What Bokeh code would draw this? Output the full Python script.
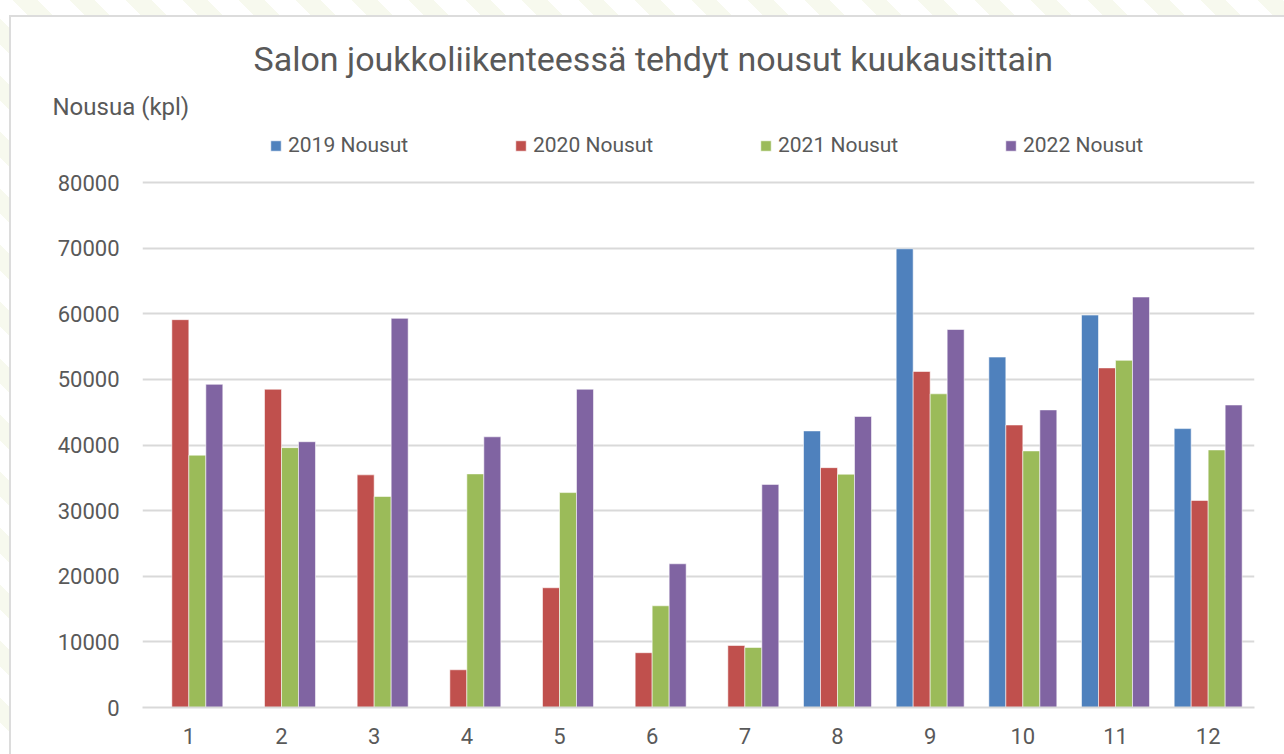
from bokeh.plotting import figure
from bokeh.models import (Range1d, FixedTicker, NumeralTickFormatter, Legend, LegendItem, Title)
from bokeh.embed import file_html
from bokeh.resources import INLINE

months = [1, 2, 3, 4, 5, 6, 7, 8, 9, 10, 11, 12]
nan = float("nan")
y2019 = [nan, nan, nan, nan, nan, nan, nan, 42150, 69900, 53400, 59800, 42500]
y2020 = [59100, 48500, 35450, 5750, 18250, 8350, 9450, 36550, 51200, 43050, 51750, 31550]
y2021 = [38450, 39600, 32150, 35600, 32750, 15500, 9150, 35550, 47800, 39100, 52900, 39250]
y2022 = [49250, 40500, 59300, 41250, 48500, 21900, 34000, 44350, 57600, 45350, 62550, 46100]
series_names = ["2019 Nousut", "2020 Nousut", "2021 Nousut", "2022 Nousut"]
colors = ["#4F81BD", "#C0504D", "#9BBB59", "#8064A2"]
y_ticks = [0, 10000, 20000, 30000, 40000, 50000, 60000, 70000, 80000]
title_text = "Salon joukkoliikenteessä tehdyt nousut kuukausittain"
y_label = "Nousua (kpl)"

FONT = "Roboto"
TXT = "#595959"

# layout (pixels)
AXIS_PX = 525          # pixels from 0 to 80000
FRAME_H = 582          # plot area extends above 80000 to hold the legend
Y_MAX = y_ticks[-1] * FRAME_H / AXIS_PX

p = figure(width=1284, height=754, output_backend="svg", toolbar_location=None,
           x_range=Range1d(0.5, 12.5), y_range=Range1d(0, Y_MAX),
           min_border_left=142, min_border_right=30, min_border_top=125, min_border_bottom=47,
           frame_width=1112, frame_height=FRAME_H)
p.outline_line_color = None
p.background_fill_color = "white"
p.border_fill_alpha = 0
# chart-area frame and faint page pattern drawn as the element background
p.styles = {
    "background-color": "white",
    "background-image": ("linear-gradient(#dcdcdc,#dcdcdc), linear-gradient(#dcdcdc,#dcdcdc), "
                         "linear-gradient(#ffffff,#ffffff), "
                         "repeating-linear-gradient(45deg, #ffffff 0px, #ffffff 22px, "
                         "#f7f9ee 22px, #f7f9ee 40px)"),
    "background-size": "2px 100%, 100% 2px, 100% 100%, 100% 100%",
    "background-position": "9px 15px, 9px 15px, 11px 17px, 0px 0px",
    "background-repeat": "no-repeat",
}

bw = 0.1834
offsets = [-1.5 * bw, -0.5 * bw, 0.5 * bw, 1.5 * bw]
renderers = []
for vals, col, off in zip([y2019, y2020, y2021, y2022], colors, offsets):
    xs = [m + off for m in months]
    r = p.vbar(x=xs, top=vals, bottom=0, width=bw, fill_color=col,
               line_color="white", line_alpha=0.55, line_width=1)
    renderers.append(r)

# axes
p.xaxis.ticker = FixedTicker(ticks=months)
p.xaxis.axis_line_color = "#D9D9D9"
p.xaxis.axis_line_width = 2
p.xaxis.major_tick_line_color = None
p.xaxis.minor_tick_line_color = None
p.xaxis.major_label_text_font = FONT
p.xaxis.major_label_text_font_size = "22px"
p.xaxis.major_label_text_color = TXT
p.xaxis.major_label_standoff = 14

p.yaxis.ticker = FixedTicker(ticks=y_ticks)
p.yaxis.formatter = NumeralTickFormatter(format="0")
p.yaxis.axis_line_color = None
p.yaxis.major_tick_line_color = None
p.yaxis.minor_tick_line_color = None
p.yaxis.major_label_text_font = FONT
p.yaxis.major_label_text_font_size = "22px"
p.yaxis.major_label_text_color = TXT
p.yaxis.major_label_standoff = 17

p.xgrid.grid_line_color = None
p.ygrid.grid_line_color = "#D9D9D9"
p.ygrid.grid_line_width = 2
p.ygrid.ticker = FixedTicker(ticks=y_ticks)

# legend inside the (extended) plot area
items = [LegendItem(label=n, renderers=[r]) for n, r in zip(series_names, renderers)]
legend = Legend(items=items, orientation="horizontal", location=(127, 550),
                glyph_width=13, glyph_height=13, label_standoff=6, label_width=226,
                spacing=0, padding=0, margin=0, border_line_color=None,
                background_fill_alpha=0, label_text_font=FONT,
                label_text_font_size="21px", label_text_color=TXT, label_height=24)
p.add_layout(legend, "center")

# axis caption and chart title, stacked outward above the plot area
p.add_layout(Title(text=y_label, align="left", offset=-90, standoff=10,
                   text_font=FONT, text_font_size="24px", text_color=TXT,
                   text_font_style="normal"), "above")
p.add_layout(Title(text=title_text, align="left", offset=111, standoff=14,
                   text_font=FONT, text_font_size="34px", text_color=TXT,
                   text_font_style="normal"), "above")

open("out.html", "w").write(file_html(p, INLINE))
